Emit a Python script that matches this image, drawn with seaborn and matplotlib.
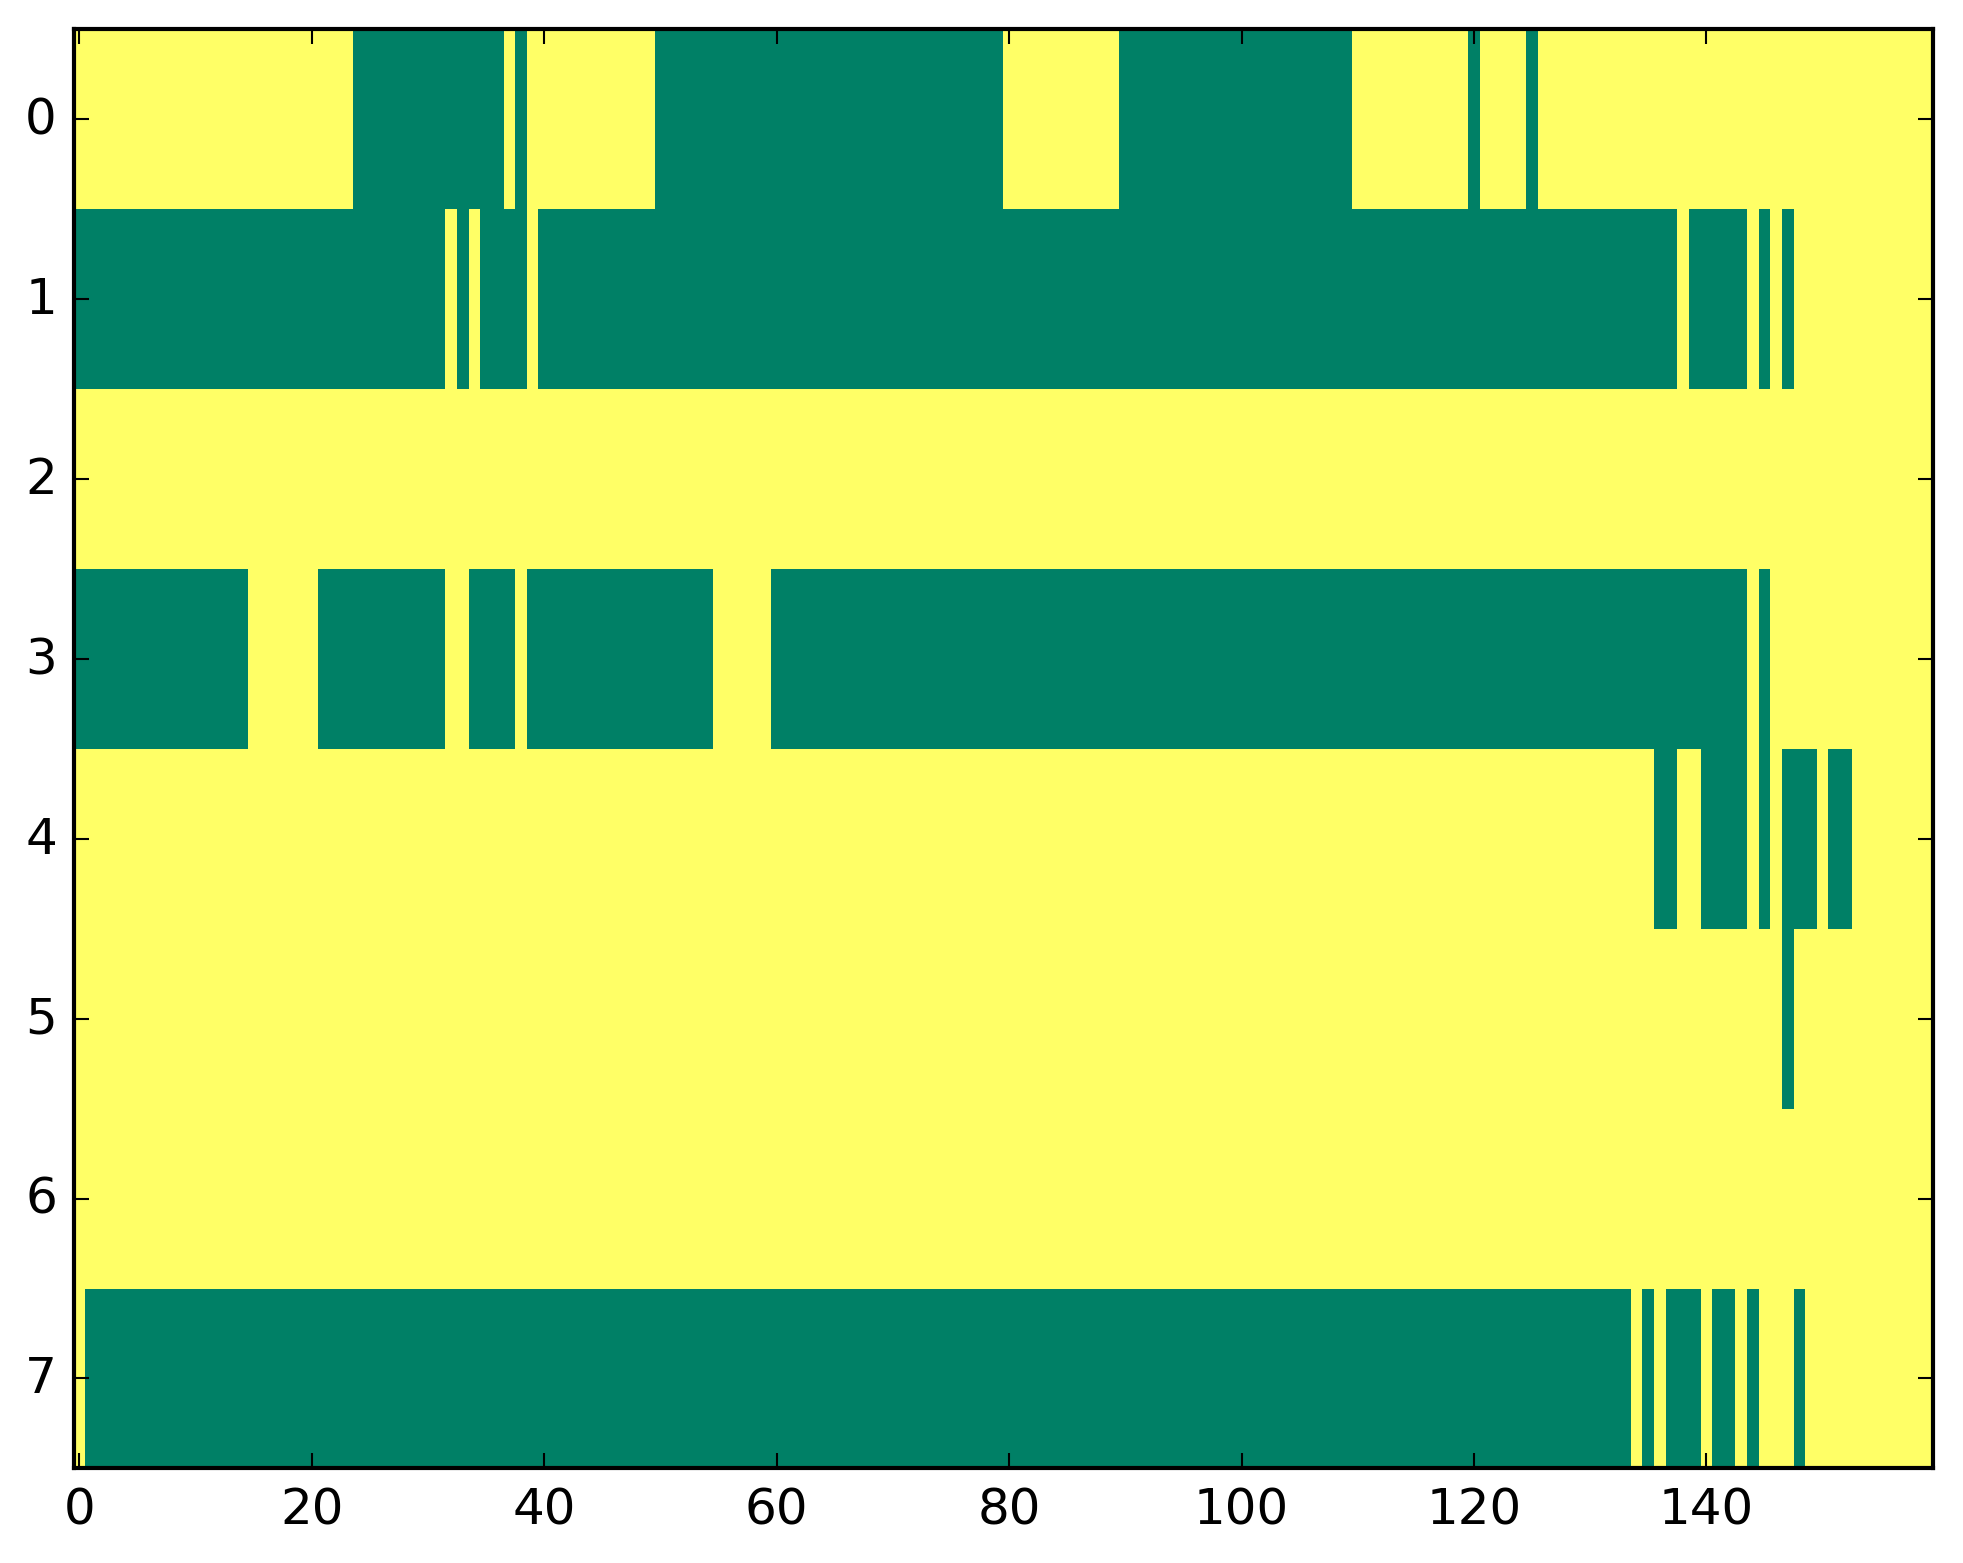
import matplotlib
matplotlib.use("Agg")
import matplotlib.pyplot as plt
import seaborn as sns
import numpy as np

# number of columns in the matrix
n_cols = 160
row_labels = ["0", "1", "2", "3", "4", "5", "6", "7"]
x_tick_values = [0, 20, 40, 60, 80, 100, 120, 140]

# runs of value 0 (green) in each row, as (start, end) with end exclusive;
# everything else is 1 (yellow)
row0_zeros = [(24, 37), (38, 39), (50, 80), (90, 110), (120, 121), (125, 126)]
row1_zeros = [(0, 32), (33, 34), (35, 39), (40, 138), (139, 144), (145, 146), (147, 148)]
row2_zeros = []
row3_zeros = [(0, 15), (21, 32), (34, 38), (39, 55), (60, 144), (145, 146)]
row4_zeros = [(136, 138), (140, 144), (145, 146), (147, 150), (151, 153)]
row5_zeros = [(147, 148)]
row6_zeros = []
row7_zeros = [(1, 134), (135, 136), (137, 140), (141, 143), (144, 145), (148, 149)]

rows = [row0_zeros, row1_zeros, row2_zeros, row3_zeros,
        row4_zeros, row5_zeros, row6_zeros, row7_zeros]

matrix = np.ones((len(rows), n_cols))
for i, runs in enumerate(rows):
    for start, end in runs:
        matrix[i, start:end] = 0

plt.style.use("classic")
fig = plt.figure(figsize=(1963 / 300, 1564 / 300), dpi=300, facecolor="white")
ax = fig.add_axes([0.0375, 0.0605, 0.9472, 0.920])

sns.heatmap(matrix, cmap="summer", vmin=0, vmax=1, cbar=False, ax=ax)

# back to the plain matplotlib look
for s in ax.spines.values():
    s.set_visible(True)
    s.set_linewidth(1.0)
    s.set_color("black")
ax.set_xticks(np.array(x_tick_values) + 0.5)
ax.set_xticklabels([str(v) for v in x_tick_values], rotation=0)
ax.set_yticks(np.arange(len(row_labels)) + 0.5)
ax.set_yticklabels(row_labels, rotation=0, va="center")
ax.tick_params(axis="both", which="both", direction="in", length=3.5, width=0.5,
               top=True, right=True, labelsize=12, pad=4, colors="black")
ax.set_xlim(0, n_cols)
ax.set_ylim(len(row_labels), 0)

plt.savefig("out.png", dpi=300, facecolor="white")
